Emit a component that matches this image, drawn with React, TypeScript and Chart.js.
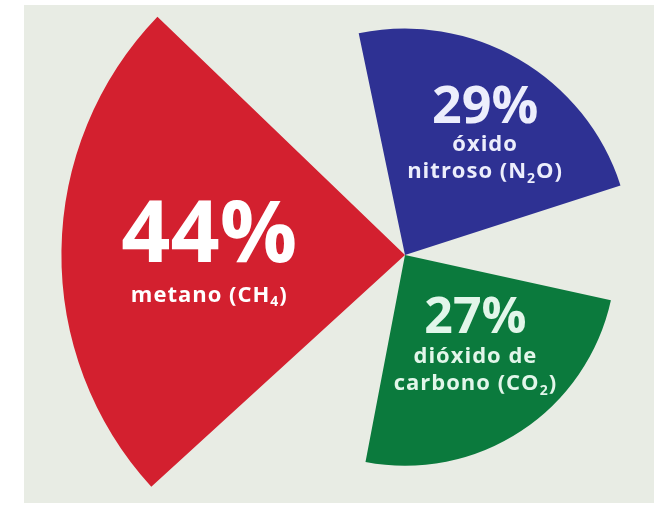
import { useEffect, useRef } from 'react';
import { Chart, registerables } from 'chart.js';

Chart.register(...registerables);

// ---- data ----
const categories = ['metano (CH₄)', 'óxido nitroso (N₂O)', 'dióxido de carbono (CO₂)'];
const values = [44, 29, 27];
const percentLabels = ['44%', '29%', '27%'];
const labelLines = [['metano (CH₄)'], ['óxido', 'nitroso (N₂O)'], ['dióxido de', 'carbono (CO₂)']];
const sliceAngles = [86.3, 83.9, 88.4];
const gapAngles = [34.3, 30.3, 36.8];
const startAngleDeg = 227.6;
const colors = ['#d3202f', '#2e3193', '#0b7a3d'];
const textColors = ['#ffffff', '#eceefc', '#e2f6ea'];

// ---- label styling ----
const bigSizes = [86, 52, 50];
const smallSizes = [22, 22, 22];
const subGap = [[40], [28, 55], [30, 57]];
const labelFrac = [0.57, 0.68, 0.5];
const labelAngleShift = [-2.8, 1.2, -8.5];
const FONT = "'Open Sans', 'DejaVu Sans', sans-serif";

const SUBS: Record<string, string> = { '₀': '0', '₁': '1', '₂': '2', '₃': '3', '₄': '4', '₅': '5', '₆': '6', '₇': '7', '₈': '8', '₉': '9' };

function drawRich(ctx: CanvasRenderingContext2D, text: string, cx: number, baseline: number, size: number, spacing: number) {
  const segs: { t: string; sub: boolean }[] = [];
  for (const ch of text) {
    const sub = ch in SUBS;
    const t = sub ? SUBS[ch] : ch;
    const last = segs[segs.length - 1];
    if (last && last.sub === sub) last.t += t;
    else segs.push({ t, sub });
  }
  (ctx as any).letterSpacing = `${spacing}px`;
  const fontFor = (sub: boolean) => `bold ${sub ? Math.round(size * 0.65) : size}px ${FONT}`;
  let w = 0;
  for (const s of segs) {
    ctx.font = fontFor(s.sub);
    w += ctx.measureText(s.t).width;
  }
  let x = cx - w / 2;
  for (const s of segs) {
    ctx.font = fontFor(s.sub);
    ctx.fillText(s.t, x, baseline + (s.sub ? size * 0.2 : 0));
    x += ctx.measureText(s.t).width;
  }
  (ctx as any).letterSpacing = '0px';
}

const bgPlugin = {
  id: 'bg',
  beforeDraw(chart: any) {
    const ctx = chart.ctx;
    ctx.save();
    ctx.fillStyle = '#ffffff';
    ctx.fillRect(0, 0, chart.width, chart.height);
    ctx.fillStyle = '#e8ece4';
    ctx.fillRect(24, 5, 630, 498);
    ctx.restore();
  },
};

const labelPlugin = {
  id: 'sliceLabels',
  afterDatasetsDraw(chart: any) {
    const meta = chart.getDatasetMeta(0);
    const ctx = chart.ctx as CanvasRenderingContext2D;
    values.forEach((_v, i) => {
      const arc = meta.data[i * 2];
      const { x, y, startAngle, endAngle, outerRadius } = arc.getProps(['x', 'y', 'startAngle', 'endAngle', 'outerRadius'], true);
      const mid = (startAngle + endAngle) / 2 + (labelAngleShift[i] * Math.PI) / 180;
      const d = outerRadius * labelFrac[i];
      const ax = x + d * Math.cos(mid);
      const ay = y + d * Math.sin(mid);
      ctx.save();
      ctx.fillStyle = textColors[i];
      ctx.textAlign = 'left';
      ctx.textBaseline = 'alphabetic';
      drawRich(ctx, percentLabels[i], ax, ay, bigSizes[i], 0);
      labelLines[i].forEach((line, j) => {
        drawRich(ctx, line, ax, ay + subGap[i][j], smallSizes[i], 1);
      });
      ctx.restore();
    });
  },
};

export default function App() {
  const ref = useRef<HTMLCanvasElement>(null);
  useEffect(() => {
    if (!ref.current) return;
    const labels: string[] = [];
    const data: number[] = [];
    const bg: string[] = [];
    const angles: number[] = [];
    categories.forEach((c, i) => {
      labels.push(c);
      data.push(values[i]);
      bg.push(colors[i]);
      angles.push(sliceAngles[i]);
      labels.push('');
      data.push(0);
      bg.push('rgba(0,0,0,0)');
      angles.push(gapAngles[i]);
    });
    const chart = new Chart(ref.current, {
      type: 'polarArea',
      data: {
        labels,
        datasets: [
          {
            data,
            backgroundColor: bg,
            borderWidth: 0,
            angle: angles,
            clip: false,
          } as any,
        ],
      },
      options: {
        responsive: false,
        animation: false,
        layout: { padding: { left: 147, right: 0, top: 2, bottom: 0 } },
        plugins: { legend: { display: false }, tooltip: { enabled: false } },
        scales: {
          r: {
            display: false,
            min: 0,
            max: 32.4,
            startAngle: startAngleDeg,
            ticks: { display: false },
            grid: { display: false },
            angleLines: { display: false },
            pointLabels: { display: false },
          },
        },
      } as any,
      plugins: [bgPlugin, labelPlugin],
    });
    return () => chart.destroy();
  }, []);
  return (
    <div style={{ position: 'fixed', left: 0, top: 0, width: 663, height: 508 }}>
      <canvas ref={ref} width={663} height={508} />
    </div>
  );
}
